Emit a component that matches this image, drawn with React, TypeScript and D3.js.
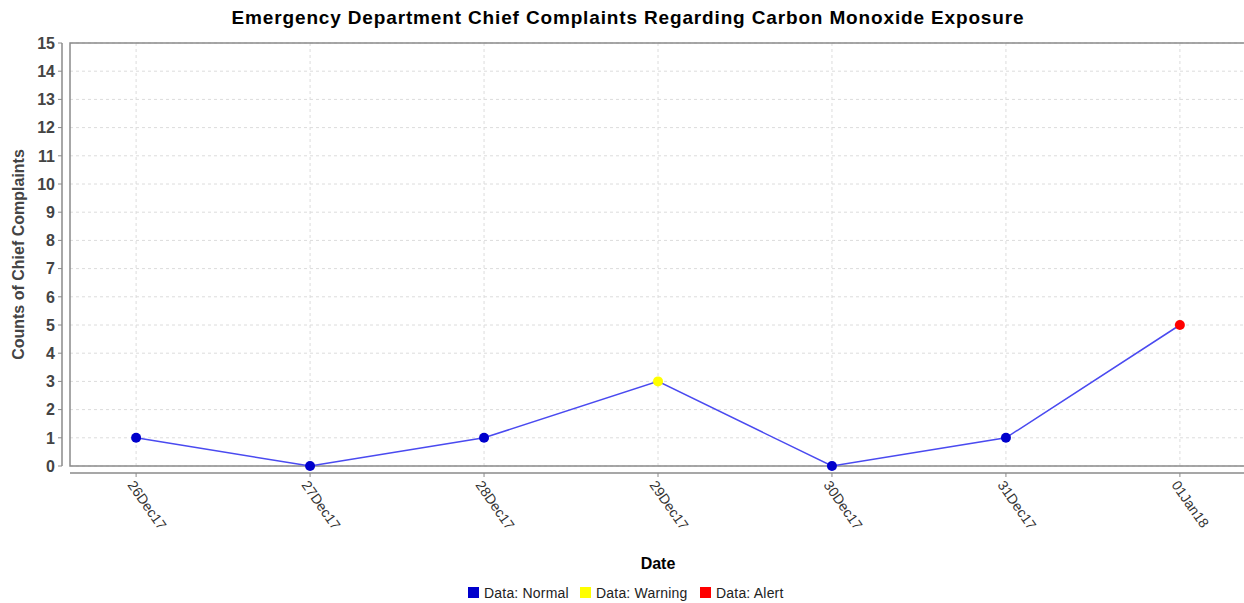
import React from 'react';
import * as d3 from 'd3';

const dates = ['26Dec17', '27Dec17', '28Dec17', '29Dec17', '30Dec17', '31Dec17', '01Jan18'];
const counts = [1, 0, 1, 3, 0, 1, 5];
const statuses = ['normal', 'normal', 'normal', 'warning', 'normal', 'normal', 'alert'];
const yTicks = d3.range(0, 16);

const legendItems = [
  { key: 'normal', label: 'Data: Normal' },
  { key: 'warning', label: 'Data: Warning' },
  { key: 'alert', label: 'Data: Alert' },
];

const statusColor: Record<string, string> = {
  normal: '#0000cc',
  warning: '#ffff00',
  alert: '#ff0000',
};

const W = 1244;
const H = 603;
const plot = { left: 70, top: 43, right: 1246, bottom: 466 };

export default function App() {
  const x = d3.scalePoint<string>()
    .domain(dates)
    .range([plot.left, plot.right])
    .padding(0.38);
  const y = d3.scaleLinear().domain([0, 15]).range([plot.bottom, plot.top]);

  const line = d3.line<number>()
    .x((_, i) => x(dates[i]) as number)
    .y(d => y(d));

  const font = '"Liberation Sans", Arial, sans-serif';
  const axisY = plot.bottom + 7;

  // legend square positions
  const legendPos = [468, 580, 700];

  return (
    <div style={{ position: 'absolute', left: 0, top: 0 }}>
      <svg width={W} height={H} style={{ display: 'block', background: '#fff' }} fontFamily={font}>
        <text x={628} y={24} textAnchor="middle" fontSize={19} letterSpacing={0.85} fontWeight="bold" fill="#000">
          Emergency Department Chief Complaints Regarding Carbon Monoxide Exposure
        </text>

        {/* grid */}
        {yTicks.map(t => (
          <line key={'gy' + t} x1={plot.left} x2={plot.right} y1={y(t)} y2={y(t)}
            stroke="#dcdcdc" strokeDasharray="3,3" strokeWidth={1} />
        ))}
        {dates.map(d => (
          <line key={'gx' + d} x1={x(d)} x2={x(d)} y1={plot.top} y2={plot.bottom}
            stroke="#dcdcdc" strokeDasharray="3,3" strokeWidth={1} />
        ))}

        {/* plot border */}
        <rect x={plot.left} y={plot.top} width={plot.right - plot.left} height={plot.bottom - plot.top}
          fill="none" stroke="#8a8a8a" strokeWidth={1.5} />

        {/* y axis */}
        <line x1={62} x2={62} y1={plot.top} y2={plot.bottom} stroke="#8a8a8a" strokeWidth={1.5} />
        {yTicks.map(t => (
          <g key={'yt' + t}>
            <line x1={58} x2={62} y1={y(t)} y2={y(t)} stroke="#8a8a8a" />
            <text x={55} y={y(t)} dy="0.36em" textAnchor="end" fontSize={16} fontWeight="bold" fill="#444">
              {t}
            </text>
          </g>
        ))}
        <text transform={`translate(24,${(plot.top + plot.bottom) / 2}) rotate(-90)`} textAnchor="middle"
          fontSize={16} fontWeight="bold" fill="#444">
          Counts of Chief Complaints
        </text>

        {/* x axis */}
        <line x1={plot.left} x2={plot.right} y1={axisY} y2={axisY} stroke="#8a8a8a" strokeWidth={1.5} />
        {dates.map(d => (
          <g key={'xt' + d}>
            <line x1={x(d)} x2={x(d)} y1={axisY} y2={axisY + 4} stroke="#8a8a8a" />
            <text transform={`translate(${(x(d) as number) - 9},${axisY + 12}) rotate(55)`}
              fontSize={14} fill="#333">
              {d}
            </text>
          </g>
        ))}
        <text x={(plot.left + plot.right) / 2} y={569} textAnchor="middle" fontSize={16} fontWeight="bold" fill="#000">
          Date
        </text>

        {/* series */}
        <path d={line(counts) || ''} fill="none" stroke="#4a4af0" strokeWidth={1.5} />
        {counts.map((c, i) => (
          <circle key={'pt' + i} cx={x(dates[i])} cy={y(c)} r={5} fill={statusColor[statuses[i]]} />
        ))}

        {/* legend */}
        {legendItems.map((item, i) => (
          <g key={item.key} transform={`translate(${legendPos[i]},587)`}>
            <rect x={0} y={0} width={11} height={11} fill={statusColor[item.key]} />
            <text x={16} y={10.5} fontSize={14} letterSpacing={0.2} fill="#222">{item.label}</text>
          </g>
        ))}
      </svg>
    </div>
  );
}
